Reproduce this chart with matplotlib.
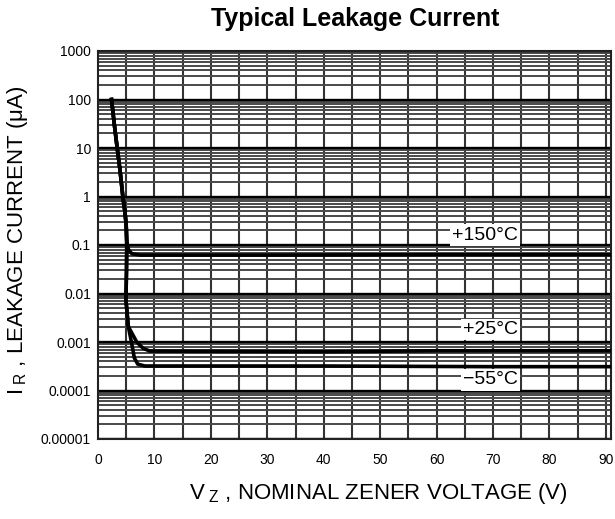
import matplotlib
matplotlib.use("Agg")
import matplotlib.pyplot as plt
import numpy as np
from matplotlib.ticker import FixedLocator, FixedFormatter, LogLocator, NullFormatter

plt.rcParams['font.family'] = ['Liberation Sans', 'DejaVu Sans']
plt.rcParams['mathtext.fontset'] = 'custom'
plt.rcParams['mathtext.rm'] = 'Liberation Sans'
plt.rcParams['mathtext.it'] = 'Liberation Sans'

# Common trunk (all temperatures) then branches
trunk_v = [2.4, 2.9, 3.4, 3.9, 4.4, 4.8, 5.0]
trunk_i = [100, 30, 10, 3.5, 1.0, 0.45, 0.25]

t150_v = [5.1, 5.4, 6.0, 7.5, 30, 60, 90.9]
t150_i = [0.12, 0.08, 0.066, 0.062, 0.062, 0.063, 0.063]

low_v = [5.1, 5.05, 4.95]
low_i = [0.1, 0.03, 0.0074]

t25_v = [5.37, 5.67, 6.86, 8.0, 9.2, 40, 60, 90.9]
t25_i = [0.0021, 0.0018, 0.001, 0.00074, 0.00065, 0.00063, 0.00066, 0.00066]

tm55_v = [5.37, 5.97, 6.44, 7.04, 8.3, 40, 70, 90.9]
tm55_i = [0.0021, 0.00093, 0.00047, 0.00035, 0.00032, 0.00032, 0.00031, 0.00031]

labels = ['+150°C', '+25°C', '\u221255°C']
label_v = [68.6, 69.5, 69.5]
label_i = [0.16, 0.0018, 0.000165]

yticks = [1e-5, 1e-4, 1e-3, 1e-2, 1e-1, 1, 10, 100, 1000]
yticklabels = ['0.00001', '0.0001', '0.001', '0.01', '0.1', '1', '10', '100', '1000']
xticks = [0, 10, 20, 30, 40, 50, 60, 70, 80, 90]

fig = plt.figure(figsize=(6.15, 5.19), dpi=100)
ax = fig.add_axes([98/615, 1-439/519, (611-98)/615, (439-51)/519])
ax.set_yscale('log')
ax.set_xlim(0, 90.9)
ax.set_ylim(1e-5, 1000)

# grid
for v in np.arange(5, 90.9, 5):
    ax.axvline(v, color='#333333', lw=1.5, zorder=1)
for d in range(-5, 3):
    for m in range(2, 10):
        ax.axhline(m * 10.0**d, color='#4a4a4a', lw=1.4, zorder=1)
for y in yticks:
    ax.axhline(y, color='black', lw=1.7, zorder=1)

lw = 2.6
v150 = trunk_v + t150_v
i150 = trunk_i + t150_i
ax.plot(v150, i150, color='black', lw=lw, zorder=3)
v25 = trunk_v + low_v + t25_v
i25 = trunk_i + low_i + t25_i
ax.plot(v25, i25, color='black', lw=lw, zorder=3)
v55 = trunk_v + low_v + tm55_v
i55 = trunk_i + low_i + tm55_i
ax.plot(v55, i55, color='black', lw=lw, zorder=3)

for t, xv, yv in zip(labels, label_v, label_i):
    ax.text(xv, yv, t, ha='center', va='center', fontsize=14, zorder=4,
            bbox=dict(facecolor='white', edgecolor='none', pad=1.5))

ax.yaxis.set_major_locator(FixedLocator(yticks))
ax.yaxis.set_major_formatter(FixedFormatter(yticklabels))
ax.yaxis.set_minor_locator(LogLocator(subs='auto'))
ax.yaxis.set_minor_formatter(NullFormatter())
ax.tick_params(axis='y', which='both', length=0, labelsize=10, pad=5)
ax.set_xticks(xticks)
ax.tick_params(axis='x', length=0, labelsize=10, pad=10)
for s in ax.spines.values():
    s.set_color('#222222')
    s.set_linewidth(1.5)

fig.text(355/615, 1-19/519, 'Typical Leakage Current', ha='center', va='center',
         fontsize=18, fontweight='bold')
fig.text(378/615, 1-494/519, r'V$_{\ \rm Z}$ , NOMINAL ZENER VOLTAGE (V)', ha='center',
         va='center', fontsize=16)
fig.text(18/615, 1-240/519, r'I$_{\ \rm R}$ , LEAKAGE CURRENT (μA)', ha='center',
         va='center', fontsize=16, rotation=90)

fig.savefig('out.png', dpi=100)
